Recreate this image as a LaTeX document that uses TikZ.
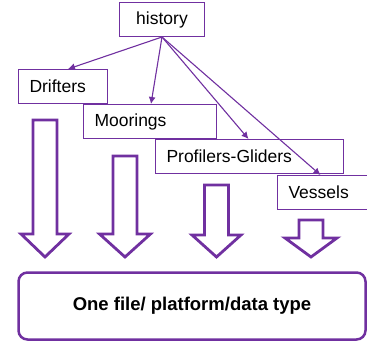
\documentclass[tikz,border=0pt]{standalone}
\usepackage{fontspec}
\setmainfont{Liberation Sans}
\usetikzlibrary{arrows.meta}
\definecolor{purp}{HTML}{7030A0}
\tikzset{
box/.style={
	draw=purp, line width=1pt, anchor=north west, minimum height=34pt,
	inner xsep=11pt, align=left, font=\fontsize{17.5}{20}\selectfont},
link/.style={
	draw=purp, line width=1.1pt, -{Latex[length=7pt,width=7pt]}},
bigarrow/.style={
	draw=purp, line width=2.8pt, line join=miter}
}

\begin{document}
\begin{tikzpicture}[x=1pt, y=-1pt]
	\useasboundingbox (0,0) rectangle (367,342);
	% the platform boxes
	\node[box, text width=63pt, align=center] (history) at (119,2) {history};
	\node[box, text width=67pt] (drifters) at (18,69) {Drifters};
	\node[box, text width=111pt] (moorings) at (83,104) {Moorings};
	\node[box, text width=166pt] (profilers) at (155,139) {Profilers-Gliders};
	\node[box, text width=88pt] (vessels) at (277,175) {Vessels};
	% links from history
	\draw[link] (history.south) -- ([xshift=5pt]drifters.north);
	\draw[link] (history.south) -- ([xshift=1pt]moorings.north);
	\draw[link] (history.south) -- ([xshift=-1pt]profilers.north);
	\draw[link] (history.south) -- ([xshift=-12pt]vessels.north);
	% hollow arrows down
	\foreach \cx/\top/\base/\hw in {45/120/234/24, 125/156/234/25.5,
		216.5/185/235/24.5, 311/220/238/26}
		\draw[bigarrow] (\cx-12,\top) -- (\cx+12,\top) -- (\cx+12,\base)
			-- (\cx+\hw,\base) -- (\cx,257) -- (\cx-\hw,\base)
			-- (\cx-12,\base) -- cycle;
	\node[draw=purp, line width=2.5pt, rounded corners=9pt,
		minimum width=347pt, minimum height=67pt,
		font=\fontsize{18.5}{21}\selectfont\bfseries] (output) at (192,306)
		{One file/ platform/data type};
\end{tikzpicture}
\end{document}
